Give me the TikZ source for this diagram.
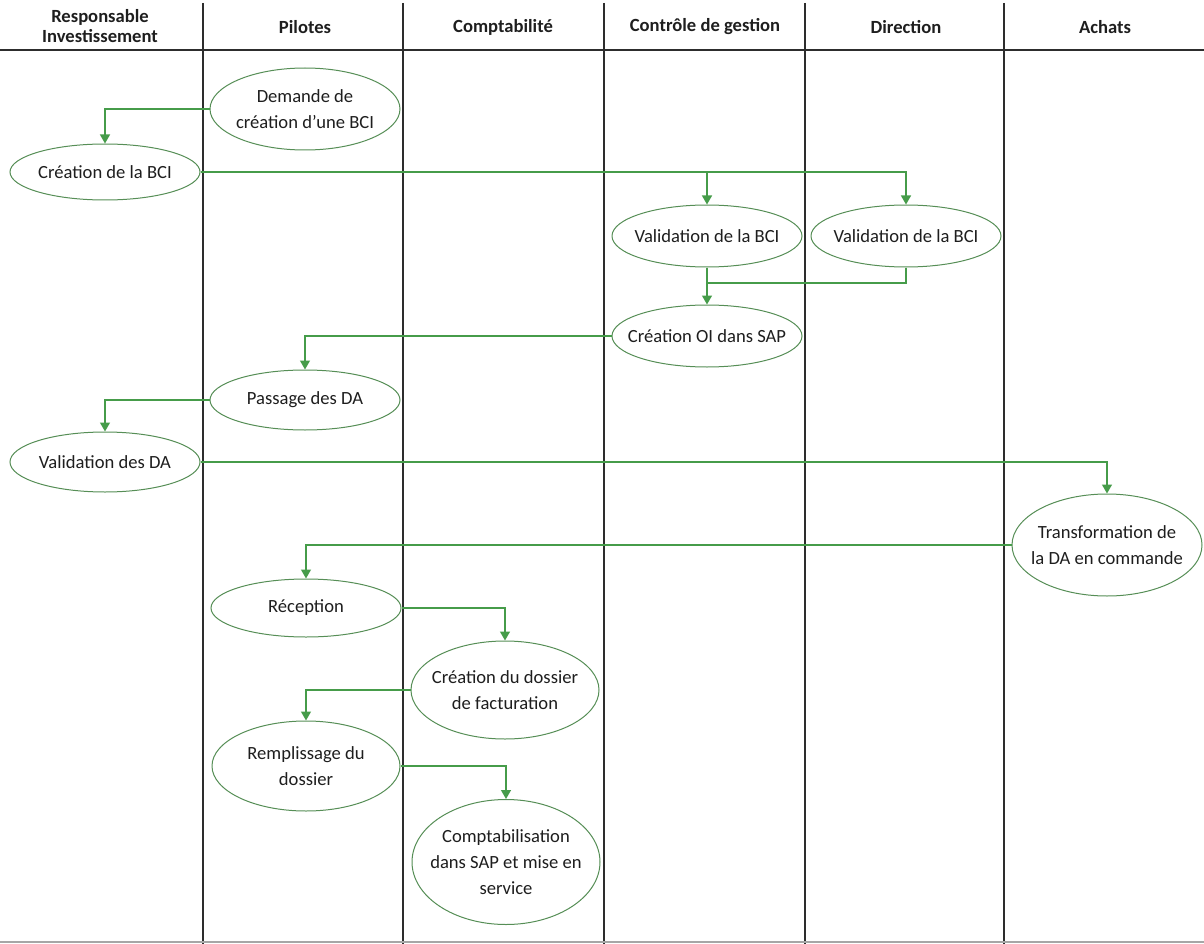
\documentclass[tikz,border=0pt]{standalone}
\usepackage{fontspec}
\setmainfont{Carlito}
\usetikzlibrary{shapes.geometric,arrows.meta}
\definecolor{fluxvert}{RGB}{70,156,74}
\definecolor{bordvert}{RGB}{86,142,86}
\definecolor{traitgris}{RGB}{45,45,45}
\definecolor{textegris}{RGB}{30,30,30}
\tikzset{
  etape/.style={ellipse, draw=bordvert, line width=1pt, fill=white, inner xsep=-20pt, inner ysep=-6pt,
    minimum width=190pt, align=center, text=textegris, font=\fontsize{18.6}{26}\selectfont},
  flux/.style={fluxvert, line width=1.3pt, -{Triangle[length=9pt,width=10pt]}},
  liaison/.style={fluxvert, line width=1.3pt},
  couloir/.style={traitgris, line width=1.5pt},
  entete/.style={align=center, text=textegris, font=\fontsize{18.6}{19.5}\selectfont\bfseries}
}

\begin{document}
\begin{tikzpicture}[x=1pt,y=-1pt]
  \useasboundingbox (0,0) rectangle (1204,944);

  % couloirs
  \foreach \x in {203,403,604,805,1004}{
    \draw[couloir] (\x,3)--(\x,944);
  }
  \draw[couloir] (0,50)--(1204,50);
  \draw[gray!70,line width=1.5pt] (0,942)--(1204,942);

  % en-tetes
  \node[entete] (hresp) at (100,26) {Responsable\\Investissement};
  \node[entete] (hpil) at (305,27) {Pilotes};
  \node[entete] (hcompta) at (503,27) {Comptabilité};
  \node[entete] (hcg) at (705,27) {Contrôle de gestion};
  \node[entete] (hdir) at (906,27) {Direction};
  \node[entete] (hachats) at (1105,27) {Achats};

  % etapes
  \node[etape,minimum height=82pt] (demande) at (305,109) {Demande de\\création d’une BCI};
  \node[etape,minimum height=56pt] (creation) at (105,172) {Création de la BCI};
  \node[etape,minimum height=62pt] (valcg) at (707,236) {Validation de la BCI};
  \node[etape,minimum height=62pt] (valdir) at (906,236) {Validation de la BCI};
  \node[etape,minimum height=62pt] (creationoi) at (707,336) {Création OI dans SAP};
  \node[etape,minimum height=60pt] (passage) at (305,400) {Passage des DA};
  \node[etape,minimum height=60pt] (valda) at (105,462) {Validation des DA};
  \node[etape,minimum height=102pt] (transfo) at (1107,545) {Transformation de\\la DA en commande};
  \node[etape,minimum height=58pt] (reception) at (306,608) {Réception};
  \node[etape,minimum height=98pt,minimum width=188pt] (dossier) at (505,690) {Création du dossier\\de facturation};
  \node[etape,minimum height=90pt,minimum width=188pt] (remplissage) at (306,766) {Remplissage du\\dossier};
  \node[etape,minimum height=125pt,minimum width=188pt] (compta) at (506,862) {Comptabilisation\\dans SAP et mise en\\service};
  \coordinate (jonction) at (707,283);

  % flux
  \draw[flux] (demande.west) -| (creation.north);
  \draw[flux] (creation.east) -| (valcg.north);
  \draw[flux] (creation.east) -| (valdir.north);
  \draw[flux] (valcg.south) -- (creationoi.north);
  \draw[liaison] (valdir.south) |- (jonction);
  \draw[flux] (creationoi.west) -| (passage.north);
  \draw[flux] (passage.west) -| (valda.north);
  \draw[flux] (valda.east) -| (transfo.north);
  \draw[flux] (transfo.west) -| (reception.north);
  \draw[flux] (reception.east) -| (dossier.north);
  \draw[flux] (dossier.west) -| (remplissage.north);
  \draw[flux] (remplissage.east) -| (compta.north);
\end{tikzpicture}
\end{document}
